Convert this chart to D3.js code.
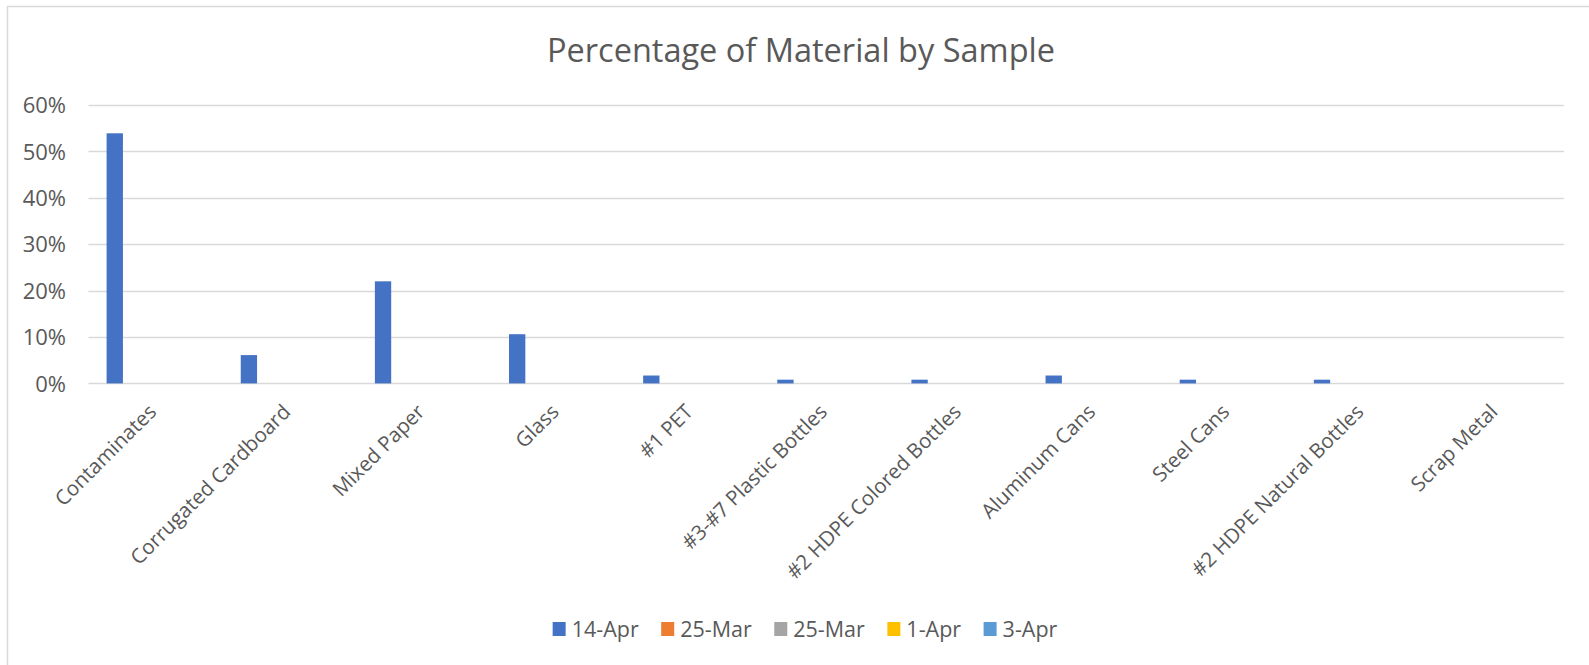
<!DOCTYPE html>
<html>
<head>
<meta charset="utf-8">
<script src="https://cdn.jsdelivr.net/npm/d3@7"></script>
<style>
  html, body { margin: 0; padding: 0; background: #fff; }
  svg { display: block; }
  text { font-family: "Open Sans", "Noto Sans", sans-serif; fill: #595959; }
</style>
</head>
<body>
<svg id="chart" width="1589" height="665"></svg>
<script>
const title = "Percentage of Material by Sample";
const categories = ["Contaminates", "Corrugated Cardboard", "Mixed Paper", "Glass", "#1 PET",
  "#3-#7 Plastic Bottles", "#2 HDPE Colored Bottles", "Aluminum Cans", "Steel Cans",
  "#2 HDPE Natural Bottles", "Scrap Metal"];
const seriesNames = ["14-Apr", "25-Mar", "25-Mar ", "1-Apr", "3-Apr"];
const seriesLabels = ["14-Apr", "25-Mar", "25-Mar", "1-Apr", "3-Apr"];
const seriesColors = ["#4472C4", "#ED7D31", "#A5A5A5", "#FFC000", "#5B9BD5"];
const values14Apr = [0.539, 0.061, 0.220, 0.106, 0.017, 0.008, 0.008, 0.017, 0.008, 0.008, 0.0];
const values25Mar = [0, 0, 0, 0, 0, 0, 0, 0, 0, 0, 0];
const values25MarB = [0, 0, 0, 0, 0, 0, 0, 0, 0, 0, 0];
const values1Apr = [0, 0, 0, 0, 0, 0, 0, 0, 0, 0, 0];
const values3Apr = [0, 0, 0, 0, 0, 0, 0, 0, 0, 0, 0];
const yTicks = [0, 0.1, 0.2, 0.3, 0.4, 0.5, 0.6];

const allValues = [values14Apr, values25Mar, values25MarB, values1Apr, values3Apr];
const FONT = '"Open Sans", "Noto Sans", sans-serif';

const svg = d3.select("#chart");

// chart border
svg.append("rect")
  .attr("x", 7.5).attr("y", 6.5)
  .attr("width", 1600).attr("height", 700)
  .attr("fill", "#fff").attr("stroke", "#D9D9D9").attr("stroke-width", 1.5);

const x0 = d3.scaleBand().domain(categories).range([88.5, 1564])
  .paddingInner(0.27).paddingOuter(0.135);
const x1 = d3.scaleBand().domain(seriesNames).range([0, x0.bandwidth()]).paddingInner(0.2);
const y = d3.scaleLinear().domain([0, 0.6]).range([383.4, 105]);

// gridlines
svg.append("g").selectAll("line").data(yTicks).join("line")
  .attr("x1", 88.5).attr("x2", 1564)
  .attr("y1", d => Math.round(y(d)) + 0.5).attr("y2", d => Math.round(y(d)) + 0.5)
  .attr("stroke", "#D9D9D9").attr("stroke-width", 1.5);

// y axis labels
const yAxis = d3.axisLeft(y).tickValues(yTicks).tickFormat(d3.format(".0%")).tickSize(0).tickPadding(0);
const yg = svg.append("g").attr("transform", "translate(66,0)").call(yAxis);
yg.select(".domain").remove();
yg.selectAll("text").attr("font-size", 22).attr("fill", "#595959").attr("dy", "0.35em")
  .style("font-family", FONT);

// bars
const groups = svg.append("g").selectAll("g").data(categories).join("g")
  .attr("transform", d => `translate(${x0(d)},0)`);
groups.selectAll("rect")
  .data((c, i) => seriesNames.map((s, j) => ({ s, j, v: allValues[j][i] })))
  .join("rect")
  .attr("x", d => x1(d.s))
  .attr("width", x1.bandwidth())
  .attr("y", d => y(d.v))
  .attr("height", d => y(0) - y(d.v))
  .attr("fill", d => seriesColors[d.j]);

// x labels
const xAxis = d3.axisBottom(x0).tickSize(0).tickPadding(0);
const xg = svg.append("g").call(xAxis);
xg.select(".domain").remove();
xg.selectAll(".tick").attr("transform", d => `translate(${x0(d) + x0.bandwidth() / 2 - 3},408)`);
xg.selectAll("text")
  .attr("y", 0).attr("dy", "0.35em")
  .attr("transform", "rotate(-45)")
  .attr("text-anchor", "end")
  .attr("font-size", 20.5).attr("fill", "#595959")
  .style("font-family", FONT);

// title
svg.append("text").attr("x", 801).attr("y", 62)
  .attr("text-anchor", "middle").attr("font-size", 32.5)
  .text(title);

// legend
const legend = svg.append("g");
let lx = 0;
seriesLabels.forEach((lab, i) => {
  const g = legend.append("g").attr("transform", `translate(${lx},0)`);
  g.append("rect").attr("x", 0).attr("y", -7).attr("width", 13).attr("height", 14).attr("fill", seriesColors[i]);
  const t = g.append("text").attr("x", 19).attr("y", 0).attr("dy", "0.35em").attr("font-size", 21.5).text(lab);
  lx += 19 + t.node().getComputedTextLength() + 22.5;
});
const legendWidth = lx - 22.5;
legend.attr("transform", `translate(${805 - legendWidth / 2},629)`);
</script>
</body>
</html>
